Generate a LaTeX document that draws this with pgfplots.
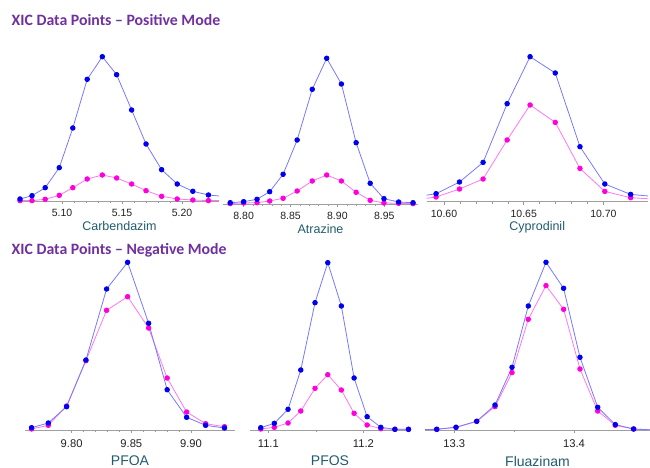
\documentclass[border=0pt]{standalone}
\usepackage{pgfplots}
\pgfplotsset{compat=1.18}
\usepackage{fontspec}
\setmainfont{Liberation Sans}
\newfontfamily\titlefont{Carlito}
\definecolor{titlepurple}{HTML}{7030A0}
\definecolor{labelteal}{HTML}{215C6E}
\definecolor{ticktext}{HTML}{222222}
\definecolor{lineblue}{HTML}{7878FF}
\definecolor{markblue}{HTML}{0000F0}
\definecolor{linepink}{HTML}{FF78F0}
\definecolor{markpink}{HTML}{FF00DC}
\pgfplotsset{
  xic/.style={
    scale only axis, anchor=south west,
    axis x line=bottom, axis y line=none,
    x axis line style={-, draw=gray!75, line width=0.9pt},
    ymin=0,
    tick align=outside, major tick length=3pt, minor tick length=2pt,
    every tick/.style={gray!80, line width=0.5pt},
    /pgf/number format/assume math mode=true,
    /pgf/number format/fixed, /pgf/number format/fixed zerofill,
    scaled x ticks=false,
    xticklabel style={text=ticktext, anchor=center},
    xlabel style={text=labelteal, anchor=center, inner sep=0.5pt, at={(axis description cs:0.5,0)}},
  },
  top/.style={xic, height=160pt, ymax=160,
    /pgf/number format/precision=2, minor tick num=4,
    xticklabel style={font=\fontsize{10.5}{12}\selectfont, yshift=-9.3pt},
    xlabel style={font=\fontsize{12.5}{14}\selectfont, yshift=-25.5pt}},
  bot/.style={xic, height=180pt, ymax=180,
    xticklabel style={font=\fontsize{11.2}{13}\selectfont, yshift=-10.2pt},
    xlabel style={font=\fontsize{14}{16}\selectfont, yshift=-30.8pt}},
  bser/.style={color=lineblue, line width=0.8pt, mark=*, mark size=2.3pt, mark options={draw=markblue, fill=markblue}},
  pser/.style={color=linepink, line width=0.8pt, mark=*, mark size=2.3pt, mark options={draw=markpink, fill=markpink}},
}
\begin{document}
\begin{tikzpicture}[x=1pt,y=1pt]
\useasboundingbox (0,0) rectangle (650,468);
\node[anchor=base west, inner sep=0pt, text=titlepurple, font=\titlefont\bfseries\fontsize{15.8}{18}\selectfont] at (11.5,442.3) {XIC Data Points – Positive Mode};
\node[anchor=base west, inner sep=0pt, text=titlepurple, font=\titlefont\bfseries\fontsize{15.8}{18}\selectfont] at (11.5,213) {XIC Data Points – Negative Mode};

% Carbendazim
\begin{axis}[top, at={(20pt,267pt)}, width=199pt, xmin=5.065, xmax=5.2308,
  xtick={5.10,5.15,5.20}, xlabel={Carbendazim}]
\addplot[pser] coordinates {(5.065,0.4)(5.075,0.4)(5.086,1.7)(5.0977,5.7)(5.109,13.3)(5.121,22)(5.1336,26)(5.1455,23)(5.158,17)(5.17,10.3)(5.183,4.7)(5.196,2)(5.209,1)(5.222,0.4)(5.235,0.4)};
\addplot[bser] coordinates {(5.065,2)(5.075,5.3)(5.086,13.3)(5.0977,33.3)(5.109,73)(5.121,121.7)(5.1336,144.3)(5.1455,126.3)(5.158,91)(5.17,57)(5.183,31.3)(5.196,17)(5.209,9.7)(5.222,6)(5.235,4.5)};
\end{axis}

% Atrazine
\begin{axis}[top, at={(223pt,264pt)}, width=195pt, xmin=8.778, xmax=8.986,
  xtick={8.80,8.85,8.90,8.95}, xlabel={Atrazine}]
\addplot[pser] coordinates {(8.7857,0.4)(8.80,1)(8.8143,1.3)(8.8278,3)(8.8421,5.7)(8.8571,13)(8.8732,23)(8.8886,29)(8.9043,23)(8.92,11.7)(8.935,3.7)(8.9497,1)(8.9653,0.7)(8.9807,0.4)};
\addplot[bser] coordinates {(8.7857,1.3)(8.80,2.3)(8.8143,4.7)(8.8278,12.3)(8.8421,29.7)(8.8571,64)(8.8732,114.7)(8.8886,145.7)(8.9043,120)(8.92,61.3)(8.935,20.7)(8.9497,5.3)(8.9653,2)(8.9807,1.3)};
\end{axis}

% Cyprodinil
\begin{axis}[top, at={(426.5pt,266.3pt)}, width=221.5pt, xmin=10.589, xmax=10.728,
  xtick={10.60,10.65,10.70}, xlabel={Cyprodinil}]
\addplot[pser] coordinates {(10.583,2)(10.595,4.7)(10.6097,12.7)(10.6245,22.7)(10.6396,61.7)(10.654,96.7)(10.6698,79.3)(10.6853,33.3)(10.7009,10.3)(10.7171,4)(10.733,2.5)};
\addplot[bser] coordinates {(10.583,5)(10.595,8)(10.6097,19.7)(10.6245,39.3)(10.6396,98)(10.654,145)(10.6698,128.7)(10.6853,55)(10.7009,17.7)(10.7171,7.3)(10.733,5)};
\end{axis}

% PFOA
\begin{axis}[bot, at={(25pt,38pt)}, width=210pt, xmin=9.761, xmax=9.9368,
  /pgf/number format/precision=2, minor tick num=4,
  xtick={9.80,9.85,9.90}, xlabel={PFOA}]
\addplot[pser] coordinates {(9.7665,1)(9.7805,4.7)(9.7958,24)(9.812,69.3)(9.8293,119.7)(9.8469,133.3)(9.8645,102)(9.88,52)(9.8963,18)(9.9122,6.3)(9.928,3.3)};
\addplot[bser] coordinates {(9.7665,2.3)(9.7805,7)(9.7958,23.3)(9.812,70)(9.8293,141)(9.8469,167.7)(9.8645,106.7)(9.88,40.3)(9.8963,12.7)(9.9122,4.7)(9.928,2)};
\end{axis}

% PFOS
\begin{axis}[bot, at={(250pt,38pt)}, width=160pt, xmin=11.0807, xmax=11.249,
  /pgf/number format/precision=1, minor tick num=1,
  xtick={11.1,11.2}, xlabel={PFOS}]
\addplot[pser] coordinates {(11.092,1)(11.1063,2.7)(11.1207,7)(11.1341,19)(11.1491,41.7)(11.1625,55.3)(11.1768,40)(11.1902,16.7)(11.2039,5)(11.2183,1.3)(11.2331,0.7)(11.2474,0.7)};
\addplot[bser] coordinates {(11.092,2.3)(11.1063,6.7)(11.1207,20.7)(11.1341,60)(11.1491,127.3)(11.1625,167.3)(11.1768,124)(11.1902,52)(11.2039,13.3)(11.2183,2.7)(11.2331,0.7)(11.2474,0.7)};
\end{axis}

% Fluazinam
\begin{axis}[bot, at={(425pt,37.7pt)}, width=225pt, xmin=13.2755, xmax=13.4635,
  /pgf/number format/precision=1, minor tick num=1,
  xtick={13.3,13.4}, xlabel={Fluazinam}]
\addplot[pser] coordinates {(13.27,0.5)(13.2853,1)(13.3014,3)(13.3187,9)(13.334,23.7)(13.3482,57.7)(13.3618,111)(13.3766,144.7)(13.3913,121)(13.405,61.3)(13.4198,19.3)(13.4345,5)(13.4498,1.3)(13.465,0.4)};
\addplot[bser] coordinates {(13.27,0.5)(13.2853,1)(13.3014,3)(13.3187,9)(13.334,25.3)(13.3482,63)(13.3618,124.3)(13.3766,168)(13.3913,142)(13.405,73)(13.4198,23)(13.4345,5.7)(13.4498,1.3)(13.465,0.4)};
\end{axis}
\end{tikzpicture}
\end{document}
